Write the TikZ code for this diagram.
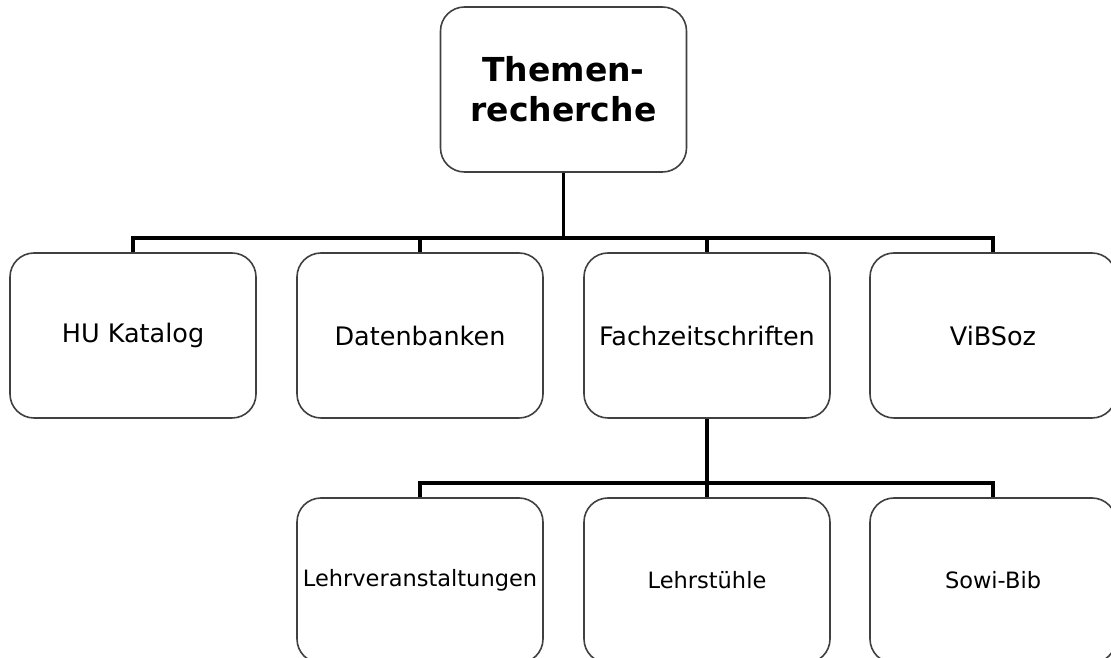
\documentclass[tikz,border=0pt]{standalone}
\usepackage{fontspec}
\setmainfont{DejaVu Sans}
\usepackage{tikz}
\usetikzlibrary{positioning}

\tikzset{
  box/.style={rectangle,rounded corners=24pt,draw=black!75,line width=1.6pt,fill=white,
    minimum width=246pt,minimum height=165pt,inner sep=2pt,align=center},
  conn/.style={line width=3.2pt,black},
  mid/.style={font=\fontsize{25.5}{30}\selectfont},
  low/.style={font=\fontsize{22.5}{27}\selectfont}
}

\begin{document}
\begin{tikzpicture}[x=1pt,y=1pt]
  \useasboundingbox (0,0) rectangle (1111,658);
  \node (top) at (563.5,568.5) [box,font=\bfseries\fontsize{33}{40}\selectfont] {Themen-\\recherche};
  % erste Ebene
  \node (hu) at (133,322.5) [box,mid] {HU Katalog};
  \node (daten) at (420,322.5) [box,mid] {Datenbanken};
  \node (fach) at (707,322.5) [box,mid] {Fachzeitschriften};
  \node (vib) at (993,322.5) [box,mid] {ViBSoz};
  % zweite Ebene
  \node (lehrv) at (420,77.5) [box,low] {Lehrveranstaltungen};
  \node (lehrst) at (707,77.5) [box,low] {Lehrstühle};
  \node (sowi) at (993,77.5) [box,low] {Sowi-Bib};
  \coordinate (bus1) at (563.5,420);
  \coordinate (bus2) at (707,175);
  \draw[conn] (top.south) -- (bus1);
  \draw[conn] (hu.north) |- (bus1) -| (vib.north);
  \draw[conn] (daten.north) -- (daten.north |- bus1);
  \draw[conn] (fach.north) -- (fach.north |- bus1);
  \draw[conn] (fach.south) -- (bus2);
  \draw[conn] (lehrv.north) |- (bus2) -| (sowi.north);
  \draw[conn] (lehrst.north) -- (bus2);
\end{tikzpicture}
\end{document}
